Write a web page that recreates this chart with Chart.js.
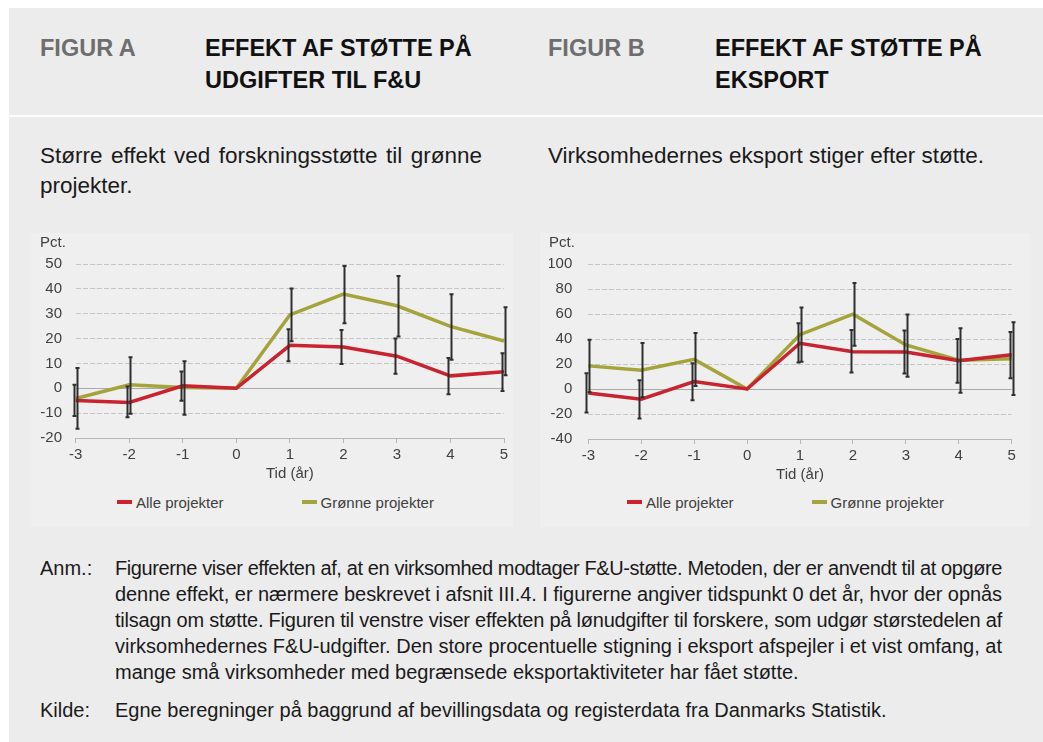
<!DOCTYPE html>
<html lang="da">
<head>
<meta charset="utf-8">
<title>Effekt af støtte</title>
<script src="https://cdn.jsdelivr.net/npm/chart.js@4/dist/chart.umd.min.js"></script>
<style>
  html, body { margin: 0; padding: 0; background: #fff; }
  body { width: 1043px; height: 742px; position: relative; overflow: hidden;
         font-family: "Liberation Sans", Arial, sans-serif; color: #111; }
  .head { position: absolute; left: 9px; top: 8px; right: 0; height: 107px; background: #ececec; }
  .main { position: absolute; left: 9px; top: 117px; right: 0; bottom: 0; background: #ececec; }
  .fig { position: absolute; top: 33px; font-size: 23.5px; line-height: 31.5px; font-weight: bold; }
  .fig.lbl { color: #6e6e6e; }
  .sub { position: absolute; top: 141px; font-size: 22.5px; line-height: 30px; color: #1a1a1a; }
  .sub .j { display: block; text-align: justify; text-align-last: justify; }
  .plotbg { position: absolute; top: 233px; height: 294px; background: #efefef; }
  .box { position: absolute; top: 228px; height: 262px; }
  .legend { position: absolute; top: 492px; height: 20px; display: flex; align-items: center;
            font-size: 15px; color: #404040; }
  .legend .item { display: flex; align-items: center; }
  .legend .sw { width: 15px; height: 3.5px; margin-right: 4px; }
  .note { position: absolute; left: 40px; font-size: 20px; line-height: 26px; color: #1a1a1a; }
  .note .k { position: absolute; left: 0; top: 0; }
  .note .t { position: absolute; left: 75px; width: 887px; }
  .note .t span { display: block; white-space: nowrap; text-align: justify; text-align-last: justify; }
  .note .t span.last { text-align-last: left; }
</style>
</head>
<body>
<div class="head"></div>
<div class="main"></div>

<div class="fig lbl" style="left:40px">FIGUR A</div>
<div class="fig" style="left:205px">EFFEKT AF STØTTE PÅ<br>UDGIFTER TIL F&amp;U</div>
<div class="fig lbl" style="left:548px">FIGUR B</div>
<div class="fig" style="left:715px">EFFEKT AF STØTTE PÅ<br>EKSPORT</div>

<div class="sub" style="left:40px;width:442px"><span class="j">Større effekt ved forskningsstøtte til grønne</span>projekter.</div>
<div class="sub" style="left:548px">Virksomhedernes eksport stiger efter støtte.</div>

<div class="plotbg" style="left:30px;width:483px"></div>
<div class="plotbg" style="left:540px;width:490px"></div>

<div class="box" style="left:30px;width:500px"><canvas id="chartA"></canvas></div>
<div class="box" style="left:540px;width:490px"><canvas id="chartB"></canvas></div>

<div class="legend" id="legendA" style="left:117px"></div>
<div class="legend" id="legendB" style="left:627px"></div>

<div class="note" style="top:555px">
  <div class="k">Anm.:</div>
  <div class="t">
    <span>Figurerne viser effekten af, at en virksomhed modtager F&amp;U-støtte. Metoden, der er anvendt til at opgøre</span>
    <span>denne effekt, er nærmere beskrevet i afsnit III.4. I figurerne angiver tidspunkt 0 det år, hvor der opnås</span>
    <span>tilsagn om støtte. Figuren til venstre viser effekten på lønudgifter til forskere, som udgør størstedelen af</span>
    <span>virksomhedernes F&amp;U-udgifter. Den store procentuelle stigning i eksport afspejler i et vist omfang, at</span>
    <span class="last">mange små virksomheder med begrænsede eksportaktiviteter har fået støtte.</span>
  </div>
</div>
<div class="note" style="top:697px">
  <div class="k">Kilde:</div>
  <div class="t"><span class="last">Egne beregninger på baggrund af bevillingsdata og registerdata fra Danmarks Statistik.</span></div>
</div>

<script>
// Tid (år)
const years = ['-3', '-2', '-1', '0', '1', '2', '3', '4', '5'];
const seriesNames = ['Alle projekter', 'Grønne projekter'];
const seriesColors = ['#c8232f', '#a5a33b'];

// Figur A - udgifter til F&U, pct.
const alleA = [-4.9, -5.7, 1.0, 0, 17.3, 16.6, 12.9, 5.0, 6.7];
const alleLavA = [-11.1, -11.7, -5.0, null, 10.9, 9.8, 5.8, -2.4, -1.1];
const alleHojA = [1.4, 0.7, 6.8, null, 23.8, 23.4, 20.0, 12.2, 14.1];
const groenA = [-4.1, 1.4, 0.3, 0, 29.5, 37.9, 33.2, 24.9, 19.0];
const groenLavA = [-16.3, -10.2, -10.6, null, 18.9, 26.2, 20.8, 11.5, 5.2];
const groenHojA = [8.2, 12.5, 10.9, null, 40.1, 49.2, 45.2, 37.8, 32.6];
const ticksA = [-20, -10, 0, 10, 20, 30, 40, 50];

// Figur B - eksport, pct.
const alleB = [-3.2, -8.1, 5.9, 0, 36.6, 29.8, 29.6, 22.6, 27.4];
const alleLavB = [-18.8, -23.5, -8.9, null, 21.2, 13.2, 12.4, 5.1, 8.6];
const alleHojB = [12.6, 7.1, 20.6, null, 52.7, 47.3, 46.8, 40.0, 45.7];
const groenB = [18.5, 15.1, 23.7, 0, 43.5, 59.9, 35.2, 23.1, 24.2];
const groenLavB = [-2.5, -6.6, 2.4, null, 21.8, 34.7, 9.9, -3.0, -4.8];
const groenHojB = [39.5, 36.8, 44.9, null, 65.3, 84.9, 59.7, 48.7, 53.5];
const ticksB = [-40, -20, 0, 20, 40, 60, 80, 100];

Chart.defaults.font.family = '"Liberation Sans", Arial, sans-serif';
Chart.defaults.font.size = 15;
Chart.defaults.color = '#404040';

// tegner konfidensintervaller oven på linjerne
const errorBars = {
    id: 'errorBars',
    afterDatasetsDraw(chart) {
        const ctx = chart.ctx;
        const yScale = chart.scales.y;
        chart.data.datasets.forEach((ds, i) => {
            const meta = chart.getDatasetMeta(i);
            ctx.save();
            ctx.strokeStyle = '#2e2e2e';
            ctx.lineWidth = 2;
            meta.data.forEach((pt, j) => {
                const lo = ds.errLow[j];
                const hi = ds.errHigh[j];
                if (lo === null || hi === null) return;
                const x = Math.round(pt.x + ds.errShift) + 0.5;
                const y1 = yScale.getPixelForValue(lo);
                const y2 = yScale.getPixelForValue(hi);
                ctx.beginPath();
                ctx.moveTo(x, y1);
                ctx.lineTo(x, y2);
                ctx.moveTo(x - 2, y1);
                ctx.lineTo(x + 2, y1);
                ctx.moveTo(x - 2, y2);
                ctx.lineTo(x + 2, y2);
                ctx.stroke();
            });
            ctx.restore();
        });
    }
};

function makeChart(id, alle, alleLav, alleHoj, groen, groenLav, groenHoj, yTicks, pad, yWidth, tickPad) {
    const data = {
        labels: years,
        datasets: [
            {
                label: seriesNames[0],
                data: alle,
                borderColor: seriesColors[0],
                backgroundColor: seriesColors[0],
                borderWidth: 3.5,
                pointRadius: 0,
                tension: 0,
                errLow: alleLav,
                errHigh: alleHoj,
                errShift: -2
            },
            {
                label: seriesNames[1],
                data: groen,
                borderColor: seriesColors[1],
                backgroundColor: seriesColors[1],
                borderWidth: 3.5,
                pointRadius: 0,
                tension: 0,
                errLow: groenLav,
                errHigh: groenHoj,
                errShift: 1
            }
        ]
    };

    const config = {
        type: 'line',
        data: data,
        options: {
            responsive: true,
            maintainAspectRatio: false,
            animation: false,
            layout: {
                padding: { left: pad.left, right: pad.right, top: 0, bottom: pad.bottom }
            },
            plugins: {
                legend: { display: false },
                tooltip: { enabled: false },
                title: {
                    display: true,
                    text: 'Pct.',
                    align: 'start',
                    color: '#404040',
                    font: { size: 15, weight: 'normal' },
                    padding: { top: 6, bottom: 12 }
                }
            },
            scales: {
                x: {
                    type: 'category',
                    offset: false,
                    grid: {
                        display: true,
                        drawOnChartArea: false,
                        drawTicks: true,
                        tickLength: 5,
                        color: '#b8b8b8',
                        offset: false
                    },
                    border: { display: true, color: '#b8b8b8', width: 1 },
                    ticks: { padding: 3, maxRotation: 0, autoSkip: false },
                    title: {
                        display: true,
                        text: 'Tid (år)',
                        color: '#404040',
                        font: { size: 15 },
                        padding: { top: -2, bottom: 0 }
                    }
                },
                y: {
                    min: yTicks[0],
                    max: yTicks[yTicks.length - 1],
                    afterBuildTicks: (scale) => {
                        scale.ticks = yTicks.map((v) => ({ value: v }));
                    },
                    afterFit: (scale) => {
                        scale.width = yWidth;
                    },
                    grid: {
                        drawTicks: false,
                        color: (c) => (c.tick && c.tick.value === 0 ? '#a9a9a9' : '#c6c6c6'),
                        lineWidth: 1
                    },
                    border: {
                        display: false,
                        dash: (c) => (c.tick && c.tick.value === 0 ? [] : [5, 2])
                    },
                    ticks: { padding: tickPad }
                }
            }
        },
        plugins: [errorBars]
    };

    return new Chart(document.getElementById(id), config);
}

function makeLegend(id) {
    const el = document.getElementById(id);
    seriesNames.forEach((name, i) => {
        const item = document.createElement('div');
        item.className = 'item';
        if (i > 0) item.style.marginLeft = '78px';
        const sw = document.createElement('span');
        sw.className = 'sw';
        sw.style.background = seriesColors[i];
        const txt = document.createElement('span');
        txt.textContent = name;
        item.appendChild(sw);
        item.appendChild(txt);
        el.appendChild(item);
    });
}

// lange noteliner presses lidt sammen, så de passer i spalten (som i originalen)
function fitNoteLines() {
    document.querySelectorAll('.note .t span:not(.last)').forEach((span) => {
        const target = span.parentElement.clientWidth;
        const probe = document.createElement('span');
        probe.style.cssText = 'position:absolute;visibility:hidden;white-space:nowrap;';
        probe.textContent = span.textContent;
        span.parentElement.appendChild(probe);
        const natural = probe.getBoundingClientRect().width;
        probe.remove();
        if (natural > target) {
            const n = span.textContent.length - 1;
            span.style.letterSpacing = ((target - natural) / n) + 'px';
        }
    });
}

makeChart('chartA', alleA, alleLavA, alleHojA, groenA, groenLavA, groenHojA, ticksA,
    { left: 10, right: 26, bottom: 7 }, 35.7, 13.7);
makeChart('chartB', alleB, alleLavB, alleHojB, groenB, groenLavB, groenHojB, ticksB,
    { left: 9, right: 18.3, bottom: 6 }, 39.3, 16);
makeLegend('legendA');
makeLegend('legendB');
fitNoteLines();
</script>
</body>
</html>
